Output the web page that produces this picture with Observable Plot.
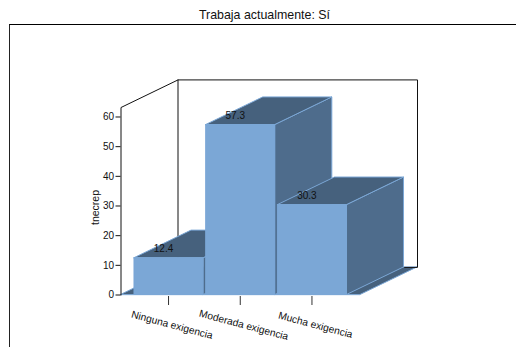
<!DOCTYPE html>
<html><head><meta charset="utf-8">
<script src="https://cdn.jsdelivr.net/npm/d3@7"></script>
<script src="https://cdn.jsdelivr.net/npm/@observablehq/plot@0.6"></script>
<style>
html,body{margin:0;padding:0;background:#fff;}
#page{position:relative;width:516px;height:347px;overflow:hidden;font-family:"Liberation Sans",Arial,sans-serif;}
#frame{position:absolute;left:9px;top:24px;right:-2px;bottom:-2px;border-left:1px solid #222;border-top:1px solid #000;}
#title{position:absolute;left:0;top:8px;width:529px;text-align:center;font-size:12.4px;line-height:14px;color:#111;}
#chart{position:absolute;left:0;top:0;}
svg{overflow:visible;}
</style></head>
<body>
<div id="page"><div id="frame"></div><div id="title">Trabaja actualmente: Sí</div><div id="chart"></div></div>
<script>
const categories = ["Ninguna exigencia", "Moderada exigencia", "Mucha exigencia"];
const values = [12.4, 57.3, 30.3];
const yTicks = [0, 10, 20, 30, 40, 50, 60];
const yMax = 63.2;
const xMin = -0.67, xMax = 2.67;
const depthX = 0.795, depthY = 9.3;
const halfBar = 0.482;
const colFront = "#7ba7d6", colSide = "#4e6c8c", colTop = "#46617d", colEdge = "#7ba7d6", ink = "#111";

const marks = [];
// floor
marks.push(Plot.areaX([
  {y: 0, x1: xMin, x2: xMax},
  {y: depthY, x1: xMin + depthX, x2: xMax + depthX}
], {y: "y", x1: "x1", x2: "x2", fill: colTop, stroke: colEdge, strokeWidth: 1}));
// walls
marks.push(Plot.line([
  {x: xMin, y: 0}, {x: xMin, y: yMax},
  {x: xMin + depthX, y: yMax + depthY},
  {x: xMax + depthX, y: yMax + depthY},
  {x: xMax + depthX, y: depthY},
  {x: xMax + depthX - 0.18, y: depthY}
], {x: "x", y: "y", stroke: ink, strokeWidth: 1}));
marks.push(Plot.line([
  {x: xMin + depthX, y: yMax + depthY}, {x: xMin + depthX, y: depthY}
], {x: "x", y: "y", stroke: ink, strokeWidth: 1}));
// bars
values.forEach((v, i) => {
  const l = i - halfBar, r = i + halfBar;
  marks.push(Plot.areaY([
    {x: r, y1: 0, y2: v},
    {x: r + depthX, y1: depthY, y2: v + depthY}
  ], {x: "x", y1: "y1", y2: "y2", fill: colSide, stroke: colEdge, strokeWidth: 1}));
  marks.push(Plot.areaX([
    {y: v, x1: l, x2: r},
    {y: v + depthY, x1: l + depthX, x2: r + depthX}
  ], {y: "y", x1: "x1", x2: "x2", fill: colTop, stroke: colEdge, strokeWidth: 1}));
  marks.push(Plot.rect([{x1: l, x2: r, y1: 0, y2: v}], {
    x1: "x1", x2: "x2", y1: "y1", y2: "y2", fill: colFront, stroke: colEdge, strokeWidth: 1
  }));
});
// value labels
marks.push(Plot.text(values, {
  x: (d, i) => i, y: d => d, text: d => d.toFixed(1),
  dx: -5.5, dy: -9, fontSize: 10, fill: "#111"
}));
// axes
marks.push(Plot.axisY({
  ticks: yTicks, tickSize: 5, tickPadding: 2, fontSize: 10, color: "#111", label: null
}));
marks.push(Plot.text(["tnecrep"], {
  x: () => xMin, y: () => 29.5, text: d => d,
  dx: -25, rotate: -90, fontSize: 10.5, fill: "#111"
}));
marks.push(Plot.axisX({ticks: [0, 1, 2], tickSize: 9, dy: 1.5, dx: -0.5, tickFormat: () => "", label: null, stroke: "#333"}));
marks.push(Plot.text(categories, {
  x: (d, i) => i, y: () => 0, text: d => d,
  dx: 3, dy: 30, rotate: 15, fontSize: 10.2, fill: "#111"
}));

const plot = Plot.plot({
  width: 516, height: 347,
  marginLeft: 120.5, marginRight: 156, marginTop: 107, marginBottom: 52.5,
  style: {background: "transparent", fontFamily: '"Liberation Sans",Arial,sans-serif'},
  x: {type: "linear", domain: [xMin, xMax]},
  y: {domain: [0, yMax]},
  marks
});
document.getElementById("chart").appendChild(plot);
</script>
</body></html>
